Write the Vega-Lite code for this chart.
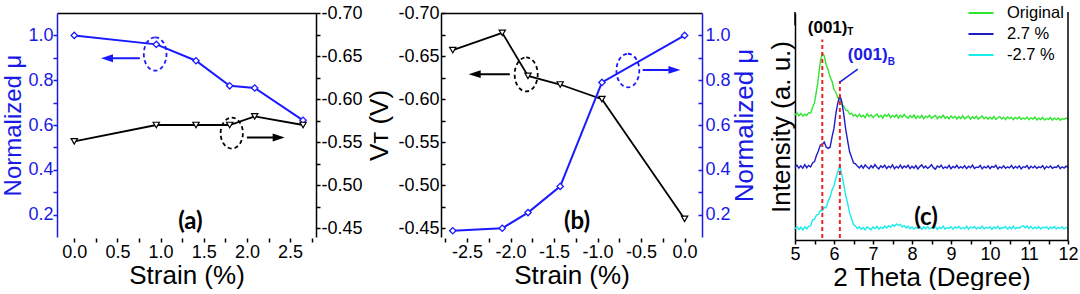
{
"$schema":"https://vega.github.io/schema/vega-lite/v6.json",
"bounds":"flush",
"spacing":0,
"padding":{"left":1,"top":2,"right":0,"bottom":0},
"config":{"view":{"stroke":null},"font":"Liberation Sans",
 "axis":{"grid":false,"labelFont":"Liberation Sans","titleFont":"Liberation Sans","labelFontSize":18,"titleFontSize":26,"titleFontWeight":"normal","tickSize":4,"tickWidth":1.5,"domainWidth":1.5,"labelPadding":1,"labelOverlap":false,"labelFlush":false,"labelBound":false,"tickColor":"black","domainColor":"black","labelColor":"black","titleColor":"black"},
 "legend":{"labelFont":"Liberation Sans"}},
"datasets":{
"pa":[{"s":0,"mu":1.0,"vt":-0.551},{"s":0.95,"mu":0.96,"vt":-0.570},{"s":1.41,"mu":0.887,"vt":-0.570},{"s":1.80,"mu":0.775,"vt":-0.570},{"s":2.09,"mu":0.765,"vt":-0.580},{"s":2.65,"mu":0.621,"vt":-0.570}],
"pb":[{"s":-2.665,"vt":-0.657,"mu":0.128},{"s":-2.096,"vt":-0.677,"mu":0.139},{"s":-1.80,"vt":-0.627,"mu":0.209},{"s":-1.43,"vt":-0.617,"mu":0.326},{"s":-0.95,"vt":-0.600,"mu":0.790},{"s":0.0,"vt":-0.461,"mu":1.0}],
"xrd":[
{"t":5.00,"o":132.0,"p":77.0,"m":12.0},{"t":5.05,"o":134.5,"p":79.2,"m":14.1},{"t":5.10,"o":131.2,"p":76.1,"m":11.0},{"t":5.15,"o":133.8,"p":78.5,"m":13.5},{"t":5.20,"o":130.9,"p":75.8,"m":10.6},{"t":5.25,"o":133.1,"p":79.6,"m":13.9},{"t":5.30,"o":131.7,"p":76.4,"m":11.8},{"t":5.35,"o":134.6,"p":78.9,"m":14.5},{"t":5.40,"o":134.0,"p":77.2,"m":15.0},{"t":5.45,"o":140.1,"p":81.5,"m":21.3},{"t":5.50,"o":145.2,"p":82.9,"m":22.0},{"t":5.55,"o":157.3,"p":89.4,"m":26.4},{"t":5.60,"o":171.0,"p":94.1,"m":27.0},{"t":5.65,"o":189.2,"p":100.3,"m":31.2},{"t":5.70,"o":197.5,"p":101.2,"m":31.0},{"t":5.75,"o":194.8,"p":103.6,"m":34.5},{"t":5.80,"o":185.1,"p":98.2,"m":34.1},{"t":5.85,"o":179.9,"p":96.8,"m":41.2},{"t":5.90,"o":172.2,"p":98.1,"m":45.3},{"t":5.95,"o":167.8,"p":109.0,"m":53.0},{"t":6.00,"o":159.1,"p":118.2,"m":57.4},{"t":6.05,"o":156.0,"p":134.1,"m":65.8},{"t":6.10,"o":150.2,"p":145.3,"m":72.4},{"t":6.15,"o":148.9,"p":152.6,"m":78.6},{"t":6.20,"o":143.1,"p":146.2,"m":69.3},{"t":6.25,"o":141.8,"p":133.0,"m":58.8},{"t":6.30,"o":137.2,"p":117.1,"m":47.2},{"t":6.35,"o":136.9,"p":104.8,"m":38.9},{"t":6.40,"o":133.2,"p":93.3,"m":28.4},{"t":6.45,"o":133.9,"p":87.6,"m":22.7},{"t":6.50,"o":131.1,"p":81.4,"m":16.3},{"t":6.55,"o":132.4,"p":80.6,"m":14.8},{"t":6.60,"o":130.2,"p":78.1,"m":12.1},
{"t":6.65,"o":133.0,"p":76.2,"m":13.9},{"t":6.70,"o":130.1,"p":78.8,"m":11.4},{"t":6.75,"o":131.9,"p":75.9,"m":13.2},{"t":6.80,"o":129.4,"p":79.3,"m":10.8},{"t":6.85,"o":133.5,"p":77.1,"m":14.0},{"t":6.90,"o":130.6,"p":75.4,"m":12.3},{"t":6.95,"o":132.3,"p":78.6,"m":10.9},{"t":7.00,"o":129.5,"p":76.3,"m":13.7},{"t":7.05,"o":131.4,"p":79.8,"m":12.0},{"t":7.10,"o":133.2,"p":76.9,"m":14.3},{"t":7.15,"o":129.8,"p":75.2,"m":11.5},{"t":7.20,"o":131.9,"p":78.4,"m":13.6},{"t":7.25,"o":128.9,"p":76.7,"m":12.2},{"t":7.30,"o":132.5,"p":79.1,"m":14.8},{"t":7.35,"o":130.7,"p":75.6,"m":12.7},{"t":7.40,"o":133.0,"p":78.0,"m":15.1},{"t":7.45,"o":129.2,"p":76.4,"m":13.4},{"t":7.50,"o":131.6,"p":79.5,"m":16.2},{"t":7.55,"o":130.1,"p":75.3,"m":14.5},{"t":7.60,"o":132.4,"p":77.8,"m":17.0},{"t":7.65,"o":128.8,"p":76.1,"m":15.3},{"t":7.70,"o":131.8,"p":79.2,"m":16.4},{"t":7.75,"o":129.9,"p":75.8,"m":13.9},{"t":7.80,"o":132.7,"p":78.3,"m":15.2},{"t":7.85,"o":130.2,"p":76.6,"m":12.8},{"t":7.90,"o":128.7,"p":79.0,"m":14.6},{"t":7.95,"o":131.5,"p":75.5,"m":12.1},{"t":8.00,"o":129.6,"p":77.9,"m":13.8},
{"t":8.05,"o":132.1,"p":76.0,"m":11.6},{"t":8.10,"o":128.5,"p":78.7,"m":13.3},{"t":8.15,"o":131.0,"p":75.1,"m":12.4},{"t":8.20,"o":129.1,"p":77.6,"m":14.2},{"t":8.25,"o":131.8,"p":79.4,"m":11.3},{"t":8.30,"o":128.3,"p":76.2,"m":13.7},{"t":8.35,"o":130.9,"p":78.1,"m":12.0},{"t":8.40,"o":129.5,"p":75.7,"m":14.4},{"t":8.45,"o":132.0,"p":77.3,"m":11.8},{"t":8.50,"o":128.7,"p":79.6,"m":13.1},{"t":8.55,"o":130.4,"p":76.5,"m":12.5},{"t":8.60,"o":131.6,"p":74.9,"m":14.0},{"t":8.65,"o":128.2,"p":78.2,"m":11.2},{"t":8.70,"o":130.7,"p":76.8,"m":13.5},{"t":8.75,"o":129.3,"p":79.1,"m":12.2},{"t":8.80,"o":131.9,"p":75.6,"m":14.6},{"t":8.85,"o":128.6,"p":77.4,"m":11.7},{"t":8.90,"o":130.3,"p":76.1,"m":13.0},{"t":8.95,"o":128.1,"p":78.9,"m":12.3},{"t":9.00,"o":131.2,"p":75.3,"m":14.1},
{"t":9.05,"o":129.0,"p":77.7,"m":11.5},{"t":9.10,"o":130.8,"p":76.4,"m":13.8},{"t":9.15,"o":127.9,"p":79.0,"m":12.6},{"t":9.20,"o":130.5,"p":75.8,"m":14.3},{"t":9.25,"o":128.4,"p":77.5,"m":11.9},{"t":9.30,"o":131.3,"p":76.0,"m":13.2},{"t":9.35,"o":128.0,"p":78.6,"m":12.0},{"t":9.40,"o":129.9,"p":75.4,"m":14.5},{"t":9.45,"o":131.0,"p":77.9,"m":11.4},{"t":9.50,"o":127.7,"p":76.3,"m":13.6},{"t":9.55,"o":130.2,"p":79.2,"m":12.7},{"t":9.60,"o":128.5,"p":75.7,"m":14.2},{"t":9.65,"o":130.9,"p":77.0,"m":11.6},{"t":9.70,"o":127.8,"p":76.6,"m":13.3},{"t":9.75,"o":129.6,"p":78.8,"m":12.1},{"t":9.80,"o":131.1,"p":75.2,"m":14.7},{"t":9.85,"o":128.2,"p":77.6,"m":11.8},{"t":9.90,"o":130.0,"p":76.2,"m":13.4},{"t":9.95,"o":127.6,"p":78.3,"m":12.4},{"t":10.00,"o":129.8,"p":75.5,"m":14.0},
{"t":10.05,"o":128.0,"p":77.8,"m":11.3},{"t":10.10,"o":130.6,"p":76.7,"m":13.7},{"t":10.15,"o":127.4,"p":79.1,"m":12.2},{"t":10.20,"o":129.3,"p":75.3,"m":14.4},{"t":10.25,"o":130.4,"p":77.2,"m":11.7},{"t":10.30,"o":127.9,"p":76.0,"m":13.1},{"t":10.35,"o":129.7,"p":78.5,"m":12.6},{"t":10.40,"o":127.3,"p":75.9,"m":14.3},{"t":10.45,"o":130.1,"p":77.4,"m":11.5},{"t":10.50,"o":128.4,"p":76.3,"m":13.8},{"t":10.55,"o":129.8,"p":78.9,"m":12.0},{"t":10.60,"o":127.2,"p":75.6,"m":14.6},{"t":10.65,"o":129.5,"p":77.7,"m":11.9},{"t":10.70,"o":128.1,"p":76.1,"m":13.2},{"t":10.75,"o":130.3,"p":78.4,"m":12.5},{"t":10.80,"o":127.5,"p":75.2,"m":14.1},{"t":10.85,"o":129.0,"p":77.5,"m":15.0},{"t":10.90,"o":127.8,"p":76.8,"m":13.0},{"t":10.95,"o":130.0,"p":78.7,"m":14.8},{"t":11.00,"o":127.1,"p":75.4,"m":12.3},
{"t":11.05,"o":129.2,"p":77.9,"m":14.5},{"t":11.10,"o":127.9,"p":76.2,"m":11.8},{"t":11.15,"o":129.9,"p":78.1,"m":13.6},{"t":11.20,"o":126.9,"p":75.7,"m":12.1},{"t":11.25,"o":128.8,"p":77.3,"m":14.2},{"t":11.30,"o":127.4,"p":76.5,"m":11.6},{"t":11.35,"o":129.6,"p":78.6,"m":13.4},{"t":11.40,"o":126.8,"p":75.1,"m":12.7},{"t":11.45,"o":128.5,"p":77.8,"m":14.0},{"t":11.50,"o":127.6,"p":76.4,"m":11.4},{"t":11.55,"o":129.4,"p":78.2,"m":13.5},{"t":11.60,"o":126.7,"p":75.8,"m":12.2},{"t":11.65,"o":128.9,"p":77.1,"m":14.3},{"t":11.70,"o":127.2,"p":76.6,"m":11.9},{"t":11.75,"o":129.1,"p":78.8,"m":13.1},{"t":11.80,"o":126.6,"p":75.5,"m":12.4},{"t":11.85,"o":128.3,"p":77.4,"m":14.1},{"t":11.90,"o":127.5,"p":76.0,"m":11.7},{"t":11.95,"o":129.0,"p":78.0,"m":13.3},{"t":12.00,"o":127.8,"p":76.7,"m":12.6}
]},
"hconcat":[
{"width":259,"height":224,"data":{"name":"pa"},
 "layer":[
  {"layer":[
   {"mark":{"type":"line","color":"#1a1aff","strokeWidth":2},
    "encoding":{"x":{"field":"s","type":"quantitative","scale":{"domain":[-0.151,2.773]},
      "axis":{"orient":"bottom","domain":false,"offset":1,"tickCount":50,"values":[0,0.25,0.5,0.75,1,1.25,1.5,1.75,2,2.25,2.5,2.75],"labelExpr":"round(datum.value*4)%2==0 ? format(datum.value,'.1f') : ''","title":"Strain (%)","titlePadding":1}},
     "y":{"field":"mu","type":"quantitative","scale":{"domain":[0.102,1.048]},
      "axis":{"orient":"left","tickCount":50,"labelPadding":0,"values":[0.2,0.3,0.4,0.5,0.6,0.7,0.8,0.9,1.0],"labelExpr":"round(datum.value*10)%2==0 ? format(datum.value,'.1f') : ''","title":"Normalized μ","titleFontSize":24,"titlePadding":2,"titleColor":"#1a1ae6","labelColor":"#1a1ae6","tickColor":"#1a1ae6","domainColor":"#1a1ae6"}}}},
   {"mark":{"type":"point","shape":"diamond","filled":true,"fill":"white","stroke":"#1a1aff","strokeWidth":1.3,"size":40,"opacity":1},
    "encoding":{"x":{"field":"s","type":"quantitative","axis":{"orient":"bottom"}},"y":{"field":"mu","type":"quantitative","axis":{"orient":"left"}}}},
   {"data":{"values":[{}]},"mark":{"type":"point","shape":"M0,-1A0.68,1 0 1,1 0,1A0.68,1 0 1,1 0,-1Z","size":1115,"filled":false,"color":"#1a1aff","strokeWidth":1.8,"strokeDash":[4,3],"opacity":1},
    "encoding":{"x":{"datum":0.937,"axis":{"orient":"bottom"}},"y":{"datum":0.917,"axis":{"orient":"left"}}}},
   {"data":{"values":[{}]},"mark":{"type":"rule","color":"#1a1aff","strokeWidth":2},
    "encoding":{"x":{"datum":0.379,"axis":{"orient":"bottom"}},"x2":{"datum":0.76},"y":{"datum":0.898,"axis":{"orient":"left"}}}},
   {"data":{"values":[{}]},"mark":{"type":"point","shape":"M-1,0L1,-0.65L1,0.65Z","size":144,"filled":true,"color":"#1a1aff","opacity":1},
    "encoding":{"x":{"datum":0.379,"axis":{"orient":"bottom"}},"y":{"datum":0.898,"axis":{"orient":"left"}}}},
   {"data":{"values":[{}]},"mark":{"type":"text","text":"(a)","font":"Lato","fontWeight":"bold","fontSize":24,"color":"black","baseline":"middle"},
    "encoding":{"x":{"datum":1.345,"axis":{"orient":"bottom"}},"y":{"datum":0.165,"axis":{"orient":"left"}}}}
  ]},
  {"layer":[
   {"mark":{"type":"line","color":"black","strokeWidth":1.8},
    "encoding":{"x":{"field":"s","type":"quantitative","scale":{"domain":[-0.151,2.773]},"axis":{"orient":"top","labels":false,"ticks":false,"title":null,"domain":true}},
     "y":{"field":"vt","type":"quantitative","scale":{"domain":[-0.45,-0.70]},
      "axis":{"orient":"right","tickCount":50,"values":[-0.7,-0.675,-0.65,-0.625,-0.6,-0.575,-0.55,-0.525,-0.5,-0.475,-0.45],"labelExpr":"round(datum.value*40)%2==0 ? '-' + format(abs(datum.value),'.2f') : ''","title":null}}}},
   {"mark":{"type":"point","shape":"triangle-down","filled":true,"fill":"white","stroke":"black","strokeWidth":1.2,"size":40,"opacity":1},
    "encoding":{"x":{"field":"s","type":"quantitative","axis":{"orient":"top"}},"y":{"field":"vt","type":"quantitative","axis":{"orient":"right"}}}},
   {"data":{"values":[{}]},"mark":{"type":"point","shape":"M0,-1A0.72,1 0 1,1 0,1A0.72,1 0 1,1 0,-1Z","size":960,"filled":false,"color":"black","strokeWidth":1.8,"strokeDash":[4,3],"opacity":1},
    "encoding":{"x":{"datum":1.824,"axis":{"orient":"top"}},"y":{"datum":-0.5606,"axis":{"orient":"right"}}}},
   {"data":{"values":[{}]},"mark":{"type":"rule","color":"black","strokeWidth":2},
    "encoding":{"x":{"datum":2.0,"axis":{"orient":"top"}},"x2":{"datum":2.368},"y":{"datum":-0.5555,"axis":{"orient":"right"}}}},
   {"data":{"values":[{}]},"mark":{"type":"point","shape":"M1,0L-1,-0.65L-1,0.65Z","size":144,"filled":true,"color":"black","opacity":1},
    "encoding":{"x":{"datum":2.368,"axis":{"orient":"top"}},"y":{"datum":-0.5555,"axis":{"orient":"right"}}}}
  ]}
 ],
 "resolve":{"scale":{"y":"independent"},"axis":{"x":"independent"}}
},
{"width":125,"height":10,"data":{"values":[{}]},"mark":{"type":"point","opacity":0},"encoding":{}},
{"width":261,"height":224,"data":{"name":"pb"},
 "layer":[
  {"layer":[
   {"mark":{"type":"line","color":"black","strokeWidth":1.8},
    "encoding":{"x":{"field":"s","type":"quantitative","scale":{"domain":[-2.8,0.152]},
      "axis":{"orient":"bottom","domain":false,"offset":1,"tickCount":50,"values":[-2.75,-2.5,-2.25,-2,-1.75,-1.5,-1.25,-1,-0.75,-0.5,-0.25,0],"labelExpr":"round(datum.value*4)%2==0 ? replace(format(datum.value,'.1f'),'−','-') : ''","title":"Strain (%)","titlePadding":1}},
     "y":{"field":"vt","type":"quantitative","scale":{"domain":[-0.45,-0.70]},
      "axis":{"orient":"left","tickCount":50,"tickSize":-4,"labelPadding":6,"values":[-0.7,-0.675,-0.65,-0.625,-0.6,-0.575,-0.55,-0.525,-0.5,-0.475,-0.45],"labelExpr":"round(datum.value*40)%2==0 ? '-' + format(abs(datum.value),'.2f') : ''","title":"Vᴛ (V)","titlePadding":5}}}},
   {"mark":{"type":"point","shape":"triangle-down","filled":true,"fill":"white","stroke":"black","strokeWidth":1.2,"size":40,"opacity":1},
    "encoding":{"x":{"field":"s","type":"quantitative","axis":{"orient":"bottom"}},"y":{"field":"vt","type":"quantitative","axis":{"orient":"left"}}}},
   {"data":{"values":[{}]},"mark":{"type":"point","shape":"M0,-1A0.68,1 0 1,1 0,1A0.68,1 0 1,1 0,-1Z","size":1150,"filled":false,"color":"black","strokeWidth":1.8,"strokeDash":[4,3],"opacity":1},
    "encoding":{"x":{"datum":-1.821,"axis":{"orient":"bottom"}},"y":{"datum":-0.6287,"axis":{"orient":"left"}}}},
   {"data":{"values":[{}]},"mark":{"type":"rule","color":"black","strokeWidth":2},
    "encoding":{"x":{"datum":-2.413,"axis":{"orient":"bottom"}},"x2":{"datum":-2.009},"y":{"datum":-0.629,"axis":{"orient":"left"}}}},
   {"data":{"values":[{}]},"mark":{"type":"point","shape":"M-1,0L1,-0.65L1,0.65Z","size":144,"filled":true,"color":"black","opacity":1},
    "encoding":{"x":{"datum":-2.413,"axis":{"orient":"bottom"}},"y":{"datum":-0.629,"axis":{"orient":"left"}}}}
  ]},
  {"layer":[
   {"mark":{"type":"line","color":"#1a1aff","strokeWidth":2},
    "encoding":{"x":{"field":"s","type":"quantitative","scale":{"domain":[-2.8,0.152]},"axis":{"orient":"top","labels":false,"ticks":false,"title":null,"domain":true}},
     "y":{"field":"mu","type":"quantitative","scale":{"domain":[0.102,1.048]},
      "axis":{"orient":"right","tickCount":50,"tickSize":-4,"labelPadding":7,"values":[0.2,0.3,0.4,0.5,0.6,0.7,0.8,0.9,1.0],"labelExpr":"round(datum.value*10)%2==0 ? format(datum.value,'.1f') : ''","title":"Normalized μ","titleAngle":270,"titleBaseline":"top","titlePadding":1,"titleColor":"#1a1ae6","labelColor":"#1a1ae6","tickColor":"#1a1ae6","domainColor":"#1a1ae6"}}}},
   {"mark":{"type":"point","shape":"diamond","filled":true,"fill":"white","stroke":"#1a1aff","strokeWidth":1.3,"size":40,"opacity":1},
    "encoding":{"x":{"field":"s","type":"quantitative","axis":{"orient":"top"}},"y":{"field":"mu","type":"quantitative","axis":{"orient":"right"}}}},
   {"data":{"values":[{}]},"mark":{"type":"point","shape":"M0,-1A0.68,1 0 1,1 0,1A0.68,1 0 1,1 0,-1Z","size":1130,"filled":false,"color":"#1a1aff","strokeWidth":1.8,"strokeDash":[4,3],"opacity":1},
    "encoding":{"x":{"datum":-0.652,"axis":{"orient":"top"}},"y":{"datum":0.843,"axis":{"orient":"right"}}}},
   {"data":{"values":[{}]},"mark":{"type":"rule","color":"#1a1aff","strokeWidth":2},
    "encoding":{"x":{"datum":-0.482,"axis":{"orient":"top"}},"x2":{"datum":-0.117},"y":{"datum":0.846,"axis":{"orient":"right"}}}},
   {"data":{"values":[{}]},"mark":{"type":"point","shape":"M1,0L-1,-0.65L-1,0.65Z","size":144,"filled":true,"color":"#1a1aff","opacity":1},
    "encoding":{"x":{"datum":-0.117,"axis":{"orient":"top"}},"y":{"datum":0.846,"axis":{"orient":"right"}}}},
   {"data":{"values":[{}]},"mark":{"type":"text","text":"(b)","font":"Lato","fontWeight":"bold","fontSize":24,"color":"black","baseline":"middle"},
    "encoding":{"x":{"datum":-1.237,"axis":{"orient":"top"}},"y":{"datum":0.165,"axis":{"orient":"right"}}}}
  ]}
 ],
 "resolve":{"scale":{"y":"independent"},"axis":{"x":"independent"}}
},
{"width":93,"height":10,"data":{"values":[{}]},"mark":{"type":"point","opacity":0},"encoding":{}},
{"width":273,"height":227,"data":{"name":"xrd"},
 "layer":[
  {"transform":[{"fold":["o","p","m"],"as":["k","v"]}],
   "mark":{"type":"line","strokeWidth":1.4},
   "encoding":{"x":{"field":"t","type":"quantitative","scale":{"domain":[5,12]},
      "axis":{"orient":"bottom","tickCount":50,"values":[5,5.5,6,6.5,7,7.5,8,8.5,9,9.5,10,10.5,11,11.5,12],"labelExpr":"datum.value % 1 == 0 ? format(datum.value,'d') : ''","title":"2 Theta (Degree)","titlePadding":1}},
    "y":{"field":"v","type":"quantitative","scale":{"domain":[0,227]},"axis":{"orient":"left","labels":false,"ticks":false,"title":"Intensity (a. u.)","titlePadding":1}},
    "color":{"field":"k","type":"nominal","scale":{"domain":["o","p","m"],"range":["#2ee62e","#1c1cc8","#19ecec"]},
      "legend":{"orient":"none","legendX":913,"legendY":-11,"title":null,"symbolType":"M-1.25,0L1.25,0","symbolSize":400,"symbolStrokeWidth":2,"labelFontSize":16.5,"labelColor":"black","rowPadding":1,"labelOffset":15,"padding":0,"labelExpr":"datum.label == 'o' ? 'Original' : (datum.label == 'p' ? '2.7 %' : '-2.7 %')"}}}},
  {"data":{"values":[{}]},"mark":{"type":"rule","color":"#ee2222","strokeWidth":2,"strokeDash":[4,3]},
   "encoding":{"x":{"datum":5.70,"axis":{"orient":"bottom"}},"y":{"datum":2,"axis":{"orient":"left"}},"y2":{"datum":212}}},
  {"data":{"values":[{}]},"mark":{"type":"rule","color":"#ee2222","strokeWidth":2,"strokeDash":[4,3]},
   "encoding":{"x":{"datum":6.15,"axis":{"orient":"bottom"}},"y":{"datum":2,"axis":{"orient":"left"}},"y2":{"datum":168}}},
  {"data":{"values":[{}]},"mark":{"type":"rule","color":"#1a1ae6","strokeWidth":1.5},
   "encoding":{"x":{"datum":6.61,"axis":{"orient":"bottom"}},"x2":{"datum":6.14},"y":{"datum":180.7,"axis":{"orient":"left"}},"y2":{"datum":166.7}}},
  {"data":{"values":[{}]},"mark":{"type":"rule","color":"black","strokeWidth":1.5},
   "encoding":{"x":{"datum":5,"axis":{"orient":"bottom"}},"y":{"datum":227,"axis":{"orient":"left"}},"y2":{"datum":241}}},
  {"data":{"values":[{}]},"mark":{"type":"rule","color":"black","strokeWidth":1.5},
   "encoding":{"x":{"datum":12,"axis":{"orient":"bottom"}},"y":{"datum":0,"axis":{"orient":"left"}},"y2":{"datum":241}}},
  {"data":{"values":[{}]},"mark":{"type":"text","text":"(001)","fontWeight":"bold","fontSize":17,"color":"black","baseline":"middle"},
   "encoding":{"x":{"datum":5.837,"axis":{"orient":"bottom"}},"y":{"datum":224,"axis":{"orient":"left"}}}},
  {"data":{"values":[{}]},"mark":{"type":"text","text":"T","fontWeight":"bold","fontSize":10,"color":"black","baseline":"middle"},
   "encoding":{"x":{"datum":6.42,"axis":{"orient":"bottom"}},"y":{"datum":219.7,"axis":{"orient":"left"}}}},
  {"data":{"values":[{}]},"mark":{"type":"text","text":"(001)","fontWeight":"bold","fontSize":17,"color":"#1a1ae6","baseline":"middle"},
   "encoding":{"x":{"datum":6.864,"axis":{"orient":"bottom"}},"y":{"datum":195.7,"axis":{"orient":"left"}}}},
  {"data":{"values":[{}]},"mark":{"type":"text","text":"B","fontWeight":"bold","fontSize":10,"color":"#1a1ae6","baseline":"middle"},
   "encoding":{"x":{"datum":7.47,"axis":{"orient":"bottom"}},"y":{"datum":187.7,"axis":{"orient":"left"}}}},
  {"data":{"values":[{}]},"mark":{"type":"text","text":"(c)","font":"Lato","fontWeight":"bold","fontSize":24,"color":"black","baseline":"middle"},
   "encoding":{"x":{"datum":8.36,"axis":{"orient":"bottom"}},"y":{"datum":23,"axis":{"orient":"left"}}}}
 ]
}
]
}
